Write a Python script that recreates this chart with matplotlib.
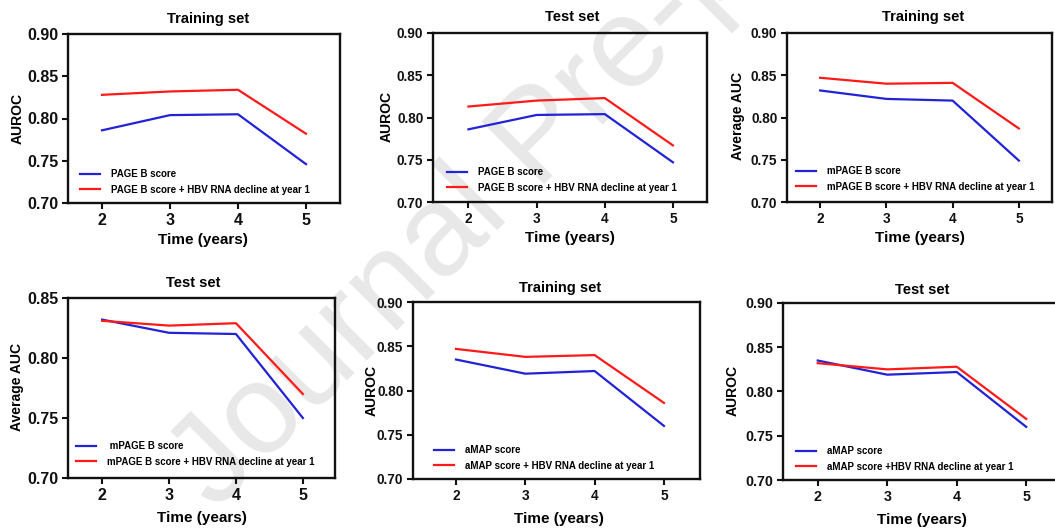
import matplotlib
matplotlib.use("Agg")
import matplotlib.pyplot as plt

W, H = 1055, 529
DPI = 100

years = [2, 3, 4, 5]

# Panel 1: PAGE-B, training set
pageb_train_base = [0.786, 0.804, 0.805, 0.746]
pageb_train_rna = [0.828, 0.832, 0.834, 0.782]
# Panel 2: PAGE-B, test set
pageb_test_base = [0.786, 0.803, 0.804, 0.747]
pageb_test_rna = [0.813, 0.820, 0.823, 0.767]
# Panel 3: mPAGE-B, training set
mpageb_train_base = [0.832, 0.822, 0.820, 0.749]
mpageb_train_rna = [0.847, 0.840, 0.841, 0.787]
# Panel 4: mPAGE-B, test set
mpageb_test_base = [0.832, 0.821, 0.820, 0.750]
mpageb_test_rna = [0.831, 0.827, 0.829, 0.770]
# Panel 5: aMAP, training set
amap_train_base = [0.835, 0.819, 0.822, 0.760]
amap_train_rna = [0.847, 0.838, 0.840, 0.786]
# Panel 6: aMAP, test set
amap_test_base = [0.835, 0.819, 0.822, 0.760]
amap_test_rna = [0.832, 0.825, 0.828, 0.769]

titles = ["Training set", "Test set", "Training set", "Test set", "Training set", "Test set"]
ylabels = ["AUROC", "AUROC", "Average AUC", "Average AUC", "AUROC", "AUROC"]
base_labels = ["PAGE B score", "PAGE B score", "mPAGE B score", " mPAGE B score",
               "aMAP score", "aMAP score"]
rna_labels = ["PAGE B score + HBV RNA decline at year 1",
              "PAGE B score + HBV RNA decline at year 1",
              "mPAGE B score + HBV RNA decline at year 1",
              "mPAGE B score + HBV RNA decline at year 1",
              "aMAP score + HBV RNA decline at year 1",
              "aMAP score +HBV RNA decline at year 1"]
base_series = [pageb_train_base, pageb_test_base, mpageb_train_base,
               mpageb_test_base, amap_train_base, amap_test_base]
rna_series = [pageb_train_rna, pageb_test_rna, mpageb_train_rna,
              mpageb_test_rna, amap_train_rna, amap_test_rna]

# Layout in pixels: axes box (left, right, top, bottom), x limits, y limits
boxes = [(68, 340, 34, 203), (433, 707, 33, 202), (787, 1052, 33, 202),
         (68, 335, 298, 478), (413, 700, 302, 479), (783, 1061, 303, 480)]
xlims = [(1.5, 5.5), (1.48, 5.5), (1.5, 5.5), (1.49, 5.48), (1.38, 5.52), (1.5, 5.5)]
ylims = [(0.70, 0.90)] * 3 + [(0.70, 0.85)] + [(0.70, 0.90)] * 2
yticks = [[0.70, 0.75, 0.80, 0.85, 0.90]] * 3 + [[0.70, 0.75, 0.80, 0.85]] + \
         [[0.70, 0.75, 0.80, 0.85, 0.90]] * 2
tick_sizes = [11.5, 9.8, 9.8, 11.5, 9.8, 10.3]
title_pos = [(208, 19), (572, 17), (923, 17), (193, 283), (560, 288), (922, 290)]
xlabel_pos = [(203, 240), (570, 238), (920, 238), (202, 518), (559, 519), (922, 520)]
ylabel_pos = [(18, 119), (387, 117), (738, 116), (17, 387), (372, 390), (733, 391)]
# legend: line start x, first row y
legend_pos = [(80, 176), (447, 174), (796, 173), (76, 448), (434, 452), (796, 453)]

FONT = "Liberation Sans"
plt.rcParams["font.family"] = [FONT, "DejaVu Sans"]
plt.rcParams["font.weight"] = "bold"

fig = plt.figure(figsize=(W / DPI, H / DPI), dpi=DPI)
fig.patch.set_facecolor("white")


def fx(x):
    return x / W


def fy(y):
    return 1 - y / H


# Faint diagonal watermark behind the panels
fig.text(fx(216), fy(512), "Journal Pre-proof", fontsize=92, fontweight="normal",
         color="#e8e8e8", rotation=45, rotation_mode="anchor",
         ha="left", va="baseline", zorder=-1, family=FONT)

for i in range(6):
    l, r, t, b = boxes[i]
    ax = fig.add_axes([fx(l), fy(b), (r - l) / W, (b - t) / H])
    ax.set_facecolor("none")
    ax.plot(years, base_series[i], color="#2222d6", lw=1.6, label=base_labels[i])
    ax.plot(years, rna_series[i], color="#ff1a1a", lw=1.6, label=rna_labels[i])
    ax.set_xlim(*xlims[i])
    ax.set_ylim(*ylims[i])
    ax.set_xticks(years)
    ax.set_yticks(yticks[i])
    ax.set_yticklabels([f"{v:.2f}" for v in yticks[i]])
    for s in ax.spines.values():
        s.set_linewidth(1.7)
        s.set_color("#111111")
    ax.tick_params(direction="out", length=4, width=1.5, labelsize=tick_sizes[i],
                   pad=3, colors="#111111")
    for lab in ax.get_xticklabels() + ax.get_yticklabels():
        lab.set_fontweight("bold")

    # legend anchored at given pixel location
    lx, ly = legend_pos[i]
    inv = ax.transAxes.inverted()
    ax_x, ax_y = inv.transform(fig.transFigure.transform((fx(lx), fy(ly - 7))))
    ax.legend(loc="upper left", bbox_to_anchor=(ax_x, ax_y), frameon=False,
              prop={"size": 7, "weight": "bold", "family": FONT},
              handlelength=2.1, handletextpad=1.1, labelspacing=0.6,
              borderpad=0, borderaxespad=0)

    tx, ty = title_pos[i]
    fig.text(fx(tx), fy(ty), titles[i], fontsize=10.5, fontweight="bold",
             ha="center", va="center")
    xx, xy = xlabel_pos[i]
    fig.text(fx(xx), fy(xy), "Time (years)", fontsize=11, fontweight="bold",
             ha="center", va="center")
    yx, yy = ylabel_pos[i]
    fig.text(fx(yx), fy(yy), ylabels[i], fontsize=10, fontweight="bold",
             ha="center", va="center", rotation=90)

fig.savefig("out.png", dpi=DPI, facecolor="white")
